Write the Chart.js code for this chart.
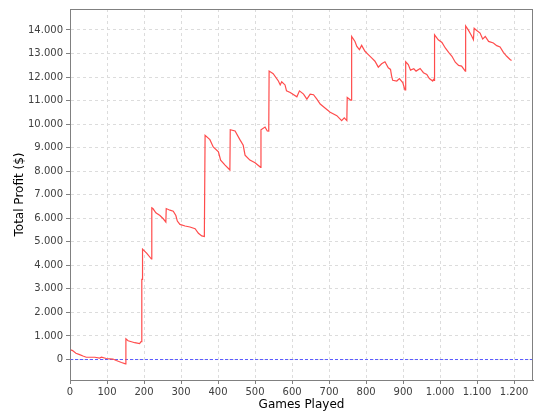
<!DOCTYPE html>
<html>
<head>
<meta charset="utf-8">
<script src="https://cdn.jsdelivr.net/npm/chart.js@4.4.0/dist/chart.umd.min.js"></script>
<style>
  body { margin: 0; background: #fff; }
</style>
</head>
<body>
<canvas id="chart" width="540" height="420"></canvas>
<script>
// games played (x) and cumulative profit (y)
const games = [0, 7, 16, 26, 35, 44, 67, 80, 85, 98, 116, 125, 139, 150, 151, 157, 166, 175, 188, 192,
  194, 195, 196, 207, 220, 221, 224, 232, 243, 252, 259, 260, 270, 279, 286, 290, 297, 311, 324, 338,
  347, 356, 363, 365, 378, 387, 401, 407, 419, 432, 433, 446, 459, 468, 473, 486, 500, 515, 516, 527,
  533, 537, 538, 549, 563, 568, 572, 581, 585, 595, 613, 620, 631, 640, 649, 658, 667, 676, 689, 703,
  721, 734, 741, 748, 749, 758, 760, 761, 770, 775, 782, 788, 797, 806, 815, 824, 833, 842, 851, 860,
  866, 869, 872, 883, 890, 899, 905, 906, 907, 914, 920, 929, 935, 946, 955, 964, 971, 980, 982, 984,
  985, 995, 1005, 1014, 1023, 1032, 1041, 1050, 1058, 1068, 1069, 1076, 1085, 1090, 1091, 1092, 1099, 1108, 1115, 1122,
  1131, 1144, 1153, 1162, 1171, 1180, 1189, 1193];
const profit = [420, 378, 265, 210, 150, 97, 97, 60, 97, 42, 20, -42, -126, -185, 882, 798, 756, 714, 672, 756,
  3403, 3403, 4690, 4521, 4269, 6441, 6413, 6231, 6118, 5979, 5840, 6413, 6344, 6300, 6118, 5882, 5740, 5672, 5630, 5559,
  5361, 5252, 5222, 9521, 9340, 9033, 8823, 8471, 8260, 8050, 9760, 9706, 9340, 9101, 8681, 8471, 8361, 8164, 9760, 9874,
  9706, 9700, 12252, 12143, 11832, 11664, 11800, 11664, 11412, 11345, 11160, 11412, 11273, 11063, 11273, 11250, 11063, 10853, 10685, 10504,
  10361, 10151, 10265, 10151, 11134, 11021, 11021, 13723, 13513, 13303, 13164, 13345, 13093, 12954, 12815, 12672, 12420, 12563, 12647, 12395,
  12323, 12042, 11861, 11832, 11933, 11765, 11454, 11450, 12647, 12533, 12294, 12353, 12252, 12365, 12185, 12113, 11933, 11832, 11900, 11860,
  13794, 13584, 13471, 13235, 13050, 12882, 12630, 12492, 12462, 12252, 14172, 14004, 13752, 13584, 13584, 14075, 13975, 13866, 13613, 13723,
  13513, 13445, 13332, 13277, 13050, 12882, 12744, 12700];

const xTicks = [0, 100, 200, 300, 400, 500, 600, 700, 800, 900, 1000, 1100, 1200];
const yTicks = [0, 1000, 2000, 3000, 4000, 5000, 6000, 7000, 8000, 9000, 10000, 11000, 12000, 13000, 14000];
const xRange = [0, 1251];
const yRange = [-870, 14890];
const zeroLine = [0, 0];

function fmt(v) {
  return String(v).replace(/\B(?=(\d{3})+(?!\d))/g, '.');
}

const plotOutline = {
  id: 'plotOutline',
  afterDraw(chart) {
    const a = chart.chartArea;
    const ctx = chart.ctx;
    ctx.save();
    ctx.strokeStyle = '#808080';
    ctx.lineWidth = 1;
    ctx.strokeRect(a.left + 0.5, a.top + 0.5, a.right - a.left - 1, a.bottom - a.top);
    ctx.restore();
  }
};

const tickFont = { family: 'DejaVu Sans', size: 10 };
const titleFont = { family: 'DejaVu Sans', size: 12 };

new Chart(document.getElementById('chart'), {
  type: 'line',
  data: {
    datasets: [{
      label: 'Total Profit',
      data: games.map((g, i) => ({ x: g, y: profit[i] })),
      borderColor: '#ff4c4c',
      borderWidth: 1.2,
      pointRadius: 0,
      tension: 0,
      fill: false
    }, {
      label: 'zero',
      data: xRange.map((g, i) => ({ x: g, y: zeroLine[i] })),
      borderColor: '#5a5aff',
      borderWidth: 1,
      borderDash: [3, 2],
      pointRadius: 0,
      fill: false
    }]
  },
  options: {
    responsive: false,
    animation: false,
    layout: { padding: { top: 4, right: 7, left: 0, bottom: 0 } },
    plugins: {
      legend: { display: false },
      tooltip: { enabled: false }
    },
    scales: {
      x: {
        type: 'linear',
        min: xRange[0],
        max: xRange[1],
        afterBuildTicks: (scale) => { scale.ticks = xTicks.map(v => ({ value: v })); },
        afterFit: (scale) => { scale.height = 40; },
        grid: {
          color: '#dcdcdc',
          tickColor: '#808080',
          tickLength: 4
        },
        border: { display: true, color: '#808080', dash: [3, 3] },
        ticks: {
          color: '#404040',
          font: tickFont,
          padding: 2,
          maxRotation: 0,
          autoSkip: false,
          callback: (v) => fmt(v)
        },
        title: {
          display: true,
          text: 'Games Played',
          color: '#000',
          font: titleFont,
          padding: { top: 0, bottom: 8 }
        }
      },
      y: {
        type: 'linear',
        min: yRange[0],
        max: yRange[1],
        afterBuildTicks: (scale) => { scale.ticks = yTicks.map(v => ({ value: v })); },
        afterFit: (scale) => { scale.width = 70; },
        grid: {
          color: '#dcdcdc',
          tickColor: '#808080',
          tickLength: 4
        },
        border: { display: true, color: '#808080', dash: [3, 3] },
        ticks: {
          color: '#404040',
          font: tickFont,
          padding: 3,
          autoSkip: false,
          callback: (v) => fmt(v)
        },
        title: {
          display: true,
          text: 'Total Profit ($)',
          color: '#000',
          font: titleFont,
          padding: { top: 13, bottom: 0 }
        }
      }
    }
  },
  plugins: [plotOutline]
});
</script>
</body>
</html>
